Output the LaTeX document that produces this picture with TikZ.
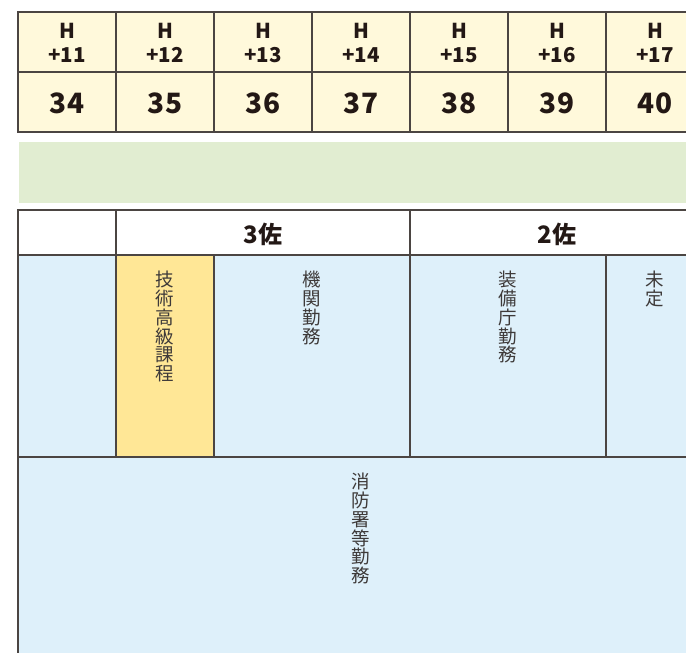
\documentclass[tikz,border=0pt]{standalone}
\usepackage{fontspec}
\setmainfont{Noto Sans CJK JP}
\usetikzlibrary{positioning}

\definecolor{rule}{HTML}{4B4542}
\definecolor{ink}{HTML}{231815}
\definecolor{softink}{HTML}{3E3A39}
\definecolor{headyellow}{HTML}{FFF9DB}
\definecolor{bandgreen}{HTML}{E1EDD1}
\definecolor{cellblue}{HTML}{DEF0FA}
\definecolor{cellyellow}{HTML}{FFE796}

\begin{document}
\begin{tikzpicture}[x=1pt,y=-1pt,
	grid/.style={draw=rule,line width=1.1pt},
	yearlab/.style={font=\fontsize{20.5}{24}\selectfont\bfseries,align=center,text=ink,inner sep=0pt},
	agelab/.style={font=\fontsize{28}{28}\selectfont\bfseries,text=ink,inner sep=0pt},
	ranklab/.style={font=\fontsize{24}{24}\selectfont\bfseries,text=ink,inner sep=0pt},
	postlab/.style={font=\fontsize{18.5}{18.8}\selectfont,align=center,text=softink,inner sep=0pt,anchor=north}]

	\useasboundingbox (0,0) rectangle (686,653);
	\clip (0,0) rectangle (686,653);

	% Year and age rows
	\foreach \i/\h/\n in {0/11/34,1/12/35,2/13/36,3/14/37,4/15/38,5/16/39,6/17/40} {
		\draw[grid,fill=headyellow] ({18+98*\i},12) rectangle ++(98,60);
		\draw[grid,fill=headyellow] ({18+98*\i},72) rectangle ++(98,60);
		\node[yearlab] (year\i) at ({67+98*\i},43) {H\\+\h};
		\node[agelab] (age\i) at ({67+98*\i},103) {\n};
	}

	% Green band
	\fill[bandgreen] (19,142) rectangle (700,203);

	% Rank row
	\draw[grid,fill=white] (18,210) rectangle (116,255);
	\draw[grid,fill=white] (116,210) rectangle (410,255);
	\draw[grid,fill=white] (410,210) rectangle (704,255);
	\node[ranklab] (rank3) at (263,234) {3佐};
	\node[ranklab] (rank2) at (557,234) {2佐};

	% Posts
	\draw[grid,fill=cellblue] (18,255) rectangle (116,457);
	\draw[grid,fill=cellyellow] (116,255) rectangle (214,457);
	\draw[grid,fill=cellblue] (214,255) rectangle (410,457);
	\draw[grid,fill=cellblue] (410,255) rectangle (606,457);
	\draw[grid,fill=cellblue] (606,255) rectangle (704,457);
	\node[postlab] (course) at (165,271) {技\\術\\高\\級\\課\\程};
	\node[postlab] (agency) at (312,271) {機\\関\\勤\\務};
	\node[postlab] (equip) at (508,271) {装\\備\\庁\\勤\\務};
	\node[postlab] (open) at (655,271) {未\\定};

	% Fire station row
	\draw[grid,fill=cellblue] (18,457) rectangle (704,700);
	\node[postlab] (fire) at (361,473) {消\\防\\署\\等\\勤\\務};

\end{tikzpicture}
\end{document}
